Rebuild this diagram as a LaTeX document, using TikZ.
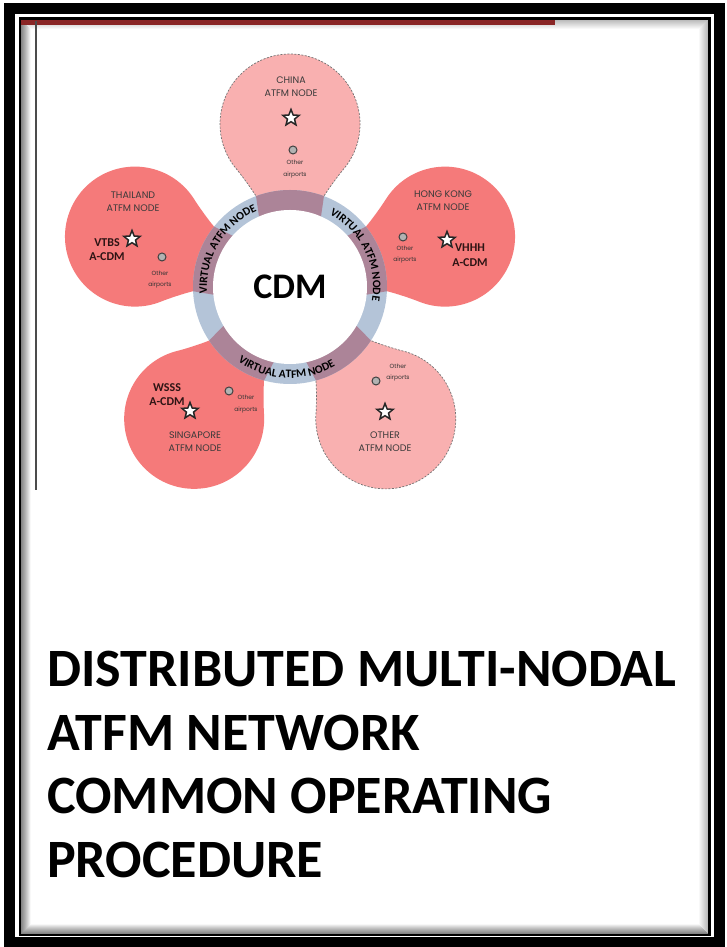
\documentclass[tikz,border=0pt]{standalone}
\usepackage{fontspec}
\setmainfont{Carlito}
\newfontfamily\petalfont{Poppins}
\usetikzlibrary{shapes.geometric,decorations.text,positioning}

\definecolor{petallight}{HTML}{F9B0B0}
\definecolor{petaldark}{HTML}{F57A7A}
\definecolor{ringblue}{HTML}{B4C4D8}
\definecolor{ringpink}{HTML}{AC8498}
\definecolor{barred}{HTML}{8A2626}
\definecolor{labelgray}{HTML}{3A3A3A}
\definecolor{codebrown}{HTML}{2E1414}

% one petal, pointing up from the ring centre
\newcommand{\petalpath}{(-28,50) -- (-34,91) .. controls (-39,99) and (-48.5,111.9) .. (-53.6,118)
  arc[start angle=220, end angle=-40, radius=70]
  .. controls (48.5,111.9) and (39,99) .. (34,91) -- (28,50) -- cycle}
\newcommand{\ringfont}{\fontsize{11.5}{12}\selectfont\bfseries}

\begin{document}
\begin{tikzpicture}[
    x = 1pt, y = 1pt,
    lightpetal/.style={fill=petallight, draw=black!55, dash pattern=on 2pt off 1.5pt, line width=0.7},
    darkpetal/.style={fill=petaldark},
    nodelabel/.style={font=\petalfont\fontsize{9.5}{13}\selectfont, text=labelgray, align=center, inner sep=0},
    codelabel/.style={font=\fontsize{12}{14.5}\selectfont\bfseries, text=codebrown, align=center, inner sep=0},
    airportlabel/.style={font=\petalfont\fontsize{6}{11.5}\selectfont, text=black!80, align=center, inner sep=0},
    airstar/.style={star, star points=5, star point ratio=2.3, draw=black!85, line width=1.5, fill=white, minimum size=17, inner sep=0},
    airdot/.style={circle, draw=black!75, fill=gray!60, line width=1, minimum size=8, inner sep=0},
    titleline/.style={anchor=base west, inner sep=0, font=\fontsize{54}{63}\selectfont\bfseries}
]
    % page and frame
    \useasboundingbox (0,0) rectangle (727,947);
    \fill[white] (0,0) rectangle (727,947);
    \foreach \k [evaluate=\k as \op using {0.32*(1-\k/11)}] in {1,...,10}
        \draw[black, line width=1.1, opacity=\op] (20+\k,928.7-\k) rectangle (709.5-\k,12+\k);
    \draw[line width=11] (9.5,938.5) rectangle (719.5,4);
    \draw[line width=2.5] (20,928.7) rectangle (709.5,12);
    \fill[barred] (21,926.5) rectangle (555,921.5);
    \draw[black!70, line width=1.5] (36,926) -- (36,457);

    % petals and ring
    \coordinate (ctr) at (290,660);
    \foreach \ang/\kind in {90/lightpetal,18/darkpetal,-54/lightpetal,-126/darkpetal,162/darkpetal}
        \path[\kind, shift={(ctr)}, rotate=\ang-90] \petalpath;
    \fill[ringblue] (ctr) circle (97);
    \begin{scope}
        \clip (ctr) circle (97);
        \foreach \ang in {90,18,-54,-126,162}
            \fill[ringpink, shift={(ctr)}, rotate=\ang-90] \petalpath;
    \end{scope}
    \node[circle, fill=white, minimum size=154, inner sep=0, font=\fontsize{36}{36}\selectfont\bfseries] (cdm) at (ctr) {CDM};

    \path[decorate, decoration={text along path, text align=center, text={|\ringfont|VIRTUAL ATFM NODE}}]
        (cdm.center) ++(187:83) arc[start angle=187, end angle=111, radius=83];
    \path[decorate, decoration={text along path, text align=center, text={|\ringfont|VIRTUAL ATFM NODE}}]
        (cdm.center) ++(63:83) arc[start angle=63, end angle=-11, radius=83];
    \path[decorate, decoration={text along path, text align=center, text={|\ringfont|VIRTUAL ATFM NODE}}]
        (cdm.center) ++(229:91) arc[start angle=229, end angle=306, radius=91];

    % China
    \node[nodelabel] (chinalbl) at (291,860.5) {CHINA\\ATFM NODE};
    \node[airstar] (chinastar) at (291,829) {};
    \node[airdot] (chinadot) at (293,797) {};
    \node[airportlabel] (chinaother) at (295,778) {Other\\airports};

    % Thailand
    \node[nodelabel] (thailbl) at (133,745.5) {THAILAND\\ATFM NODE};
    \node[airstar] (thaistar) at (132,708) {};
    \node[codelabel] (thaicode) at (107,697.5) {VTBS\\A-CDM};
    \node[airdot] (thaidot) at (162,690) {};
    \node[airportlabel] (thaiother) at (160,667.5) {Other\\airports};

    % Hong Kong
    \node[nodelabel] (hklbl) at (443,746.5) {HONG KONG\\ATFM NODE};
    \node[airdot] (hkdot) at (403,710) {};
    \node[airportlabel] (hkother) at (405,692.5) {Other\\airports};
    \node[airstar] (hkstar) at (447,707) {};
    \node[codelabel] (hkcode) at (470,692) {VHHH\\A-CDM};

    % Singapore
    \node[codelabel] (sgcode) at (167,552.5) {WSSS\\A-CDM};
    \node[airstar] (sgstar) at (190,536) {};
    \node[airdot] (sgdot) at (229,556) {};
    \node[airportlabel] (sgother) at (246,543) {Other\\airports};
    \node[nodelabel] (sglbl) at (195,505) {SINGAPORE\\ATFM NODE};

    % other node
    \node[airportlabel] (otherother) at (398,574.5) {Other\\airports};
    \node[airdot] (otherdot) at (376,566) {};
    \node[airstar] (otherstar) at (385,535) {};
    \node[nodelabel] (otherlbl) at (385,505) {OTHER\\ATFM NODE};

    % title
    \node[titleline] (title1) at (47,260) {DISTRIBUTED MULTI-NODAL};
    \node[titleline] (title2) at (47,196) {ATFM NETWORK};
    \node[titleline] (title3) at (47,133) {COMMON OPERATING};
    \node[titleline] (title4) at (47,69) {PROCEDURE};
\end{tikzpicture}
\end{document}
